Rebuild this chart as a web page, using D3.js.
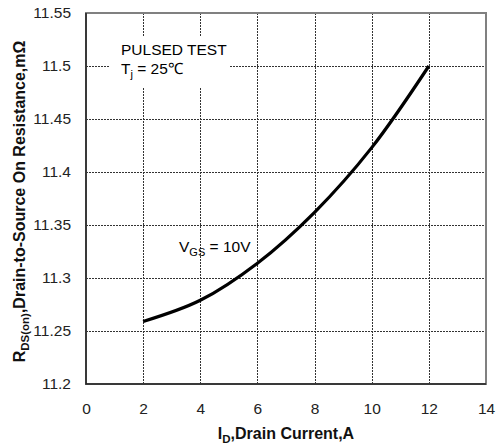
<!DOCTYPE html>
<html>
<head>
<meta charset="utf-8">
<script src="https://cdn.jsdelivr.net/npm/d3@7"></script>
<style>
  body { margin: 0; background: #fff; }
  svg { display: block; font-family: "Liberation Sans", Arial, sans-serif; }
</style>
</head>
<body>
<div id="chart"></div>
<script>
const width = 503;
const height = 445;
const margin = { top: 13, right: 17, bottom: 61, left: 86 };

// drain current (A) vs on resistance (mOhm), VGS = 10V
const current = [2, 4, 6, 8, 10, 12];
const resistance = [11.259, 11.279, 11.314, 11.362, 11.423, 11.5];

const xTicks = [0, 2, 4, 6, 8, 10, 12, 14];
const yTicks = [11.2, 11.25, 11.3, 11.35, 11.4, 11.45, 11.5, 11.55];

const iw = width - margin.left - margin.right;
const ih = height - margin.top - margin.bottom;

const x = d3.scaleLinear().domain([0, 14]).range([0, iw]);
const y = d3.scaleLinear().domain([11.2, 11.55]).range([ih, 0]);

const svg = d3.select("#chart").append("svg")
  .attr("width", width)
  .attr("height", height);

const g = svg.append("g")
  .attr("transform", `translate(${margin.left},${margin.top})`);

// dashed grid
g.append("g").selectAll("line")
  .data(xTicks.slice(1, -1))
  .join("line")
  .attr("x1", d => Math.round(x(d)) + 0.5).attr("x2", d => Math.round(x(d)) + 0.5)
  .attr("y1", 0).attr("y2", ih)
  .attr("stroke", "#333").attr("stroke-dasharray", "2,1");

g.append("g").selectAll("line")
  .data(yTicks.slice(1, -1))
  .join("line")
  .attr("y1", d => Math.round(y(d)) + 0.5).attr("y2", d => Math.round(y(d)) + 0.5)
  .attr("x1", 0).attr("x2", iw)
  .attr("stroke", "#333").attr("stroke-dasharray", "2,1");

// white box behind the test conditions
g.append("rect")
  .attr("x", 24).attr("y", 24).attr("width", 120).attr("height", 50)
  .attr("fill", "#fff");

// frame
g.append("rect")
  .attr("x", 0).attr("y", 0).attr("width", iw).attr("height", ih)
  .attr("fill", "none").attr("stroke", "#808080").attr("stroke-width", 2);
g.append("path")
  .attr("d", `M0,0V${ih}H${iw}`)
  .attr("fill", "none").attr("stroke", "#222").attr("stroke-width", 1.5);

// axes, labels only
const xAxis = g.append("g")
  .attr("transform", `translate(0,${ih})`)
  .call(d3.axisBottom(x).tickValues(xTicks).tickSize(0).tickPadding(19).tickFormat(d3.format("d")));
const yAxis = g.append("g")
  .call(d3.axisLeft(y).tickValues(yTicks).tickSize(0).tickPadding(15).tickFormat(d => String(+d.toFixed(2))));
[xAxis, yAxis].forEach(a => {
  a.select(".domain").remove();
  a.selectAll("text").attr("font-size", 15.5).attr("fill", "#222")
    .attr("font-family", "Liberation Sans, Arial, sans-serif");
});

// curve
const line = d3.line()
  .x((d, i) => x(current[i]))
  .y(d => y(d))
  .curve(d3.curveCatmullRom.alpha(0.5));

g.append("path")
  .datum(resistance)
  .attr("d", line)
  .attr("fill", "none")
  .attr("stroke", "#000")
  .attr("stroke-width", 3.2);

// notes
g.append("text")
  .attr("x", 35).attr("y", 42)
  .attr("font-size", 15.5).attr("fill", "#000")
  .text("PULSED TEST");
const tj = g.append("text")
  .attr("x", 35).attr("y", 61)
  .attr("font-size", 15.5).attr("fill", "#000");
tj.append("tspan").text("T");
tj.append("tspan").attr("font-size", 11).attr("dy", 4).text("j");
tj.append("tspan").attr("dy", -4).text(" = 25℃");

const vgs = g.append("text")
  .attr("x", 93).attr("y", 239)
  .attr("font-size", 15.5).attr("fill", "#000");
vgs.append("tspan").text("V");
vgs.append("tspan").attr("font-size", 11).attr("dy", 4).text("GS");
vgs.append("tspan").attr("dy", -4).text(" = 10V");

// axis titles
const xt = svg.append("text")
  .attr("x", margin.left + iw / 2).attr("y", 439)
  .attr("text-anchor", "middle")
  .attr("font-size", 16).attr("font-weight", "bold").attr("fill", "#111");
xt.append("tspan").text("I");
xt.append("tspan").attr("font-size", 11.5).attr("dy", 4).text("D");
xt.append("tspan").attr("dy", -4).text(",Drain Current,A");

const yt = svg.append("text")
  .attr("transform", `translate(25,${margin.top + ih / 2 + 3}) rotate(-90)`)
  .attr("text-anchor", "middle")
  .attr("font-size", 16).attr("font-weight", "bold").attr("fill", "#111");
yt.append("tspan").text("R");
yt.append("tspan").attr("font-size", 11.5).attr("dy", 4).text("DS(on)");
yt.append("tspan").attr("dy", -4).text(",Drain-to-Source On Resistance,mΩ");
</script>
</body>
</html>
